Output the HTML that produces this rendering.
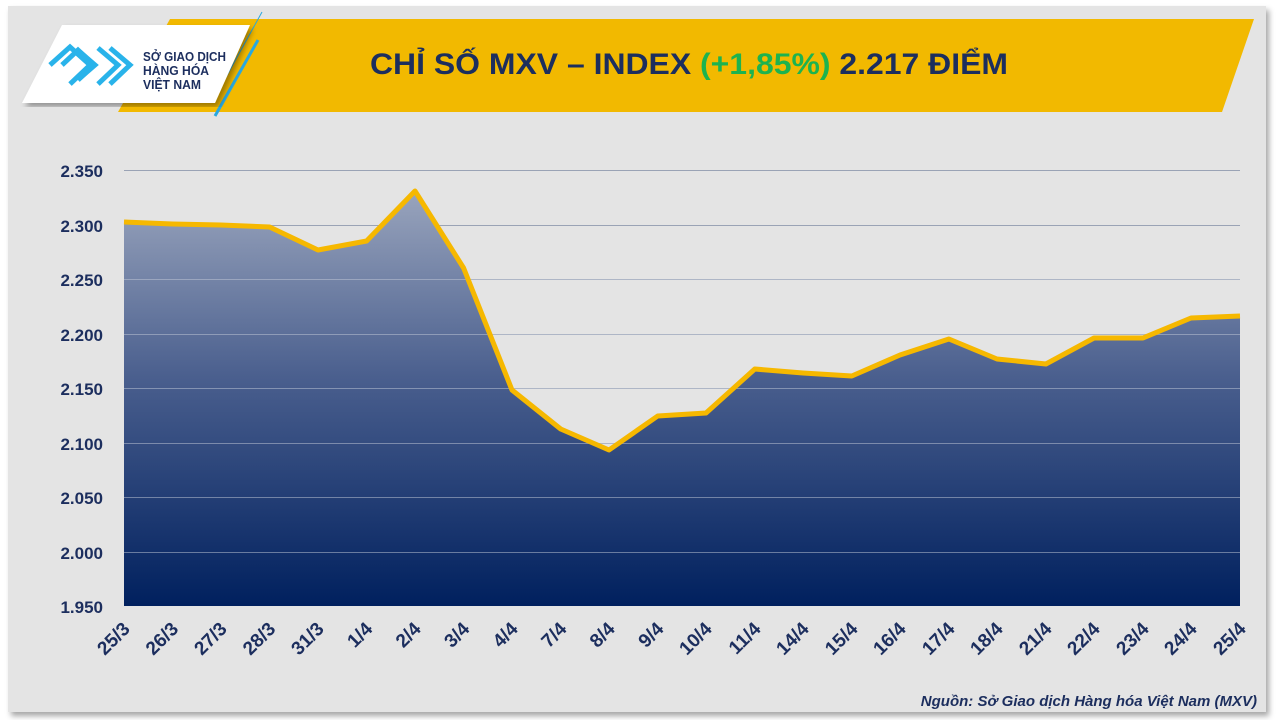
<!DOCTYPE html>
<html><head><meta charset="utf-8"><style>
html,body{margin:0;padding:0;background:#fff;}
svg{display:block;}
</style></head><body>
<svg width="1280" height="720" viewBox="0 0 1280 720" xmlns="http://www.w3.org/2000/svg" font-family="'Liberation Sans', sans-serif">
<defs>
<linearGradient id="area" gradientUnits="userSpaceOnUse" x1="0" y1="190" x2="0" y2="606">
<stop offset="0" stop-color="#9aa5bd"/>
<stop offset="0.45" stop-color="#4a5f8e"/>
<stop offset="1" stop-color="#00205e"/>
</linearGradient>
<filter id="sh" x="-5%" y="-5%" width="110%" height="110%"><feDropShadow dx="3" dy="4" stdDeviation="3" flood-color="#000" flood-opacity="0.35"/></filter>
</defs>
<rect x="0" y="0" width="1280" height="720" fill="#fff"/>
<rect x="8" y="6" width="1258" height="706" fill="#e4e4e4" filter="url(#sh)"/>
<polygon points="170,19 1254,19 1222,112 118,112" fill="#f2b900"/>
<line x1="262" y1="12" x2="220" y2="88" stroke="#29a8e0" stroke-width="1"/>
<line x1="258" y1="40" x2="215" y2="116" stroke="#29a8e0" stroke-width="3"/>
<polygon points="62,25 250,25 215,103 22,103" fill="#fff" filter="url(#sh)"/>
<g fill="none" stroke="#29b3ea" stroke-width="5">
<polyline points="50,65 70,47 90,65 70,84"/>
<polyline points="62,65 78,50 94,65 78,80"/>
<polyline points="80,52 95,65 80,78"/>
<polyline points="98,48 118,65 98,84"/>
<polyline points="110,48 130,65 110,84"/>
<polyline points="86,60 90,65 86,70"/>
</g>
<text x="143" y="61" font-size="13" font-weight="bold" fill="#1c2e5e" textLength="83" lengthAdjust="spacingAndGlyphs">SỞ GIAO DỊCH</text>
<text x="143" y="75" font-size="13" font-weight="bold" fill="#1c2e5e" textLength="66" lengthAdjust="spacingAndGlyphs">HÀNG HÓA</text>
<text x="143" y="89" font-size="13" font-weight="bold" fill="#1c2e5e" textLength="58" lengthAdjust="spacingAndGlyphs">VIỆT NAM</text>
<text x="370" y="74" font-size="30" font-weight="bold" fill="#1c2e5e" textLength="638" lengthAdjust="spacingAndGlyphs">CHỈ SỐ MXV – INDEX <tspan fill="#1db34f">(+1,85%)</tspan> 2.217 ĐIỂM</text>
<g stroke="#9aa3b5" stroke-width="1">
<line x1="124" y1="170.5" x2="1240" y2="170.5"/><line x1="124" y1="225.5" x2="1240" y2="225.5"/>
<line x1="124" y1="279.5" x2="1240" y2="279.5"/><line x1="124" y1="334.5" x2="1240" y2="334.5"/>
<line x1="124" y1="388.5" x2="1240" y2="388.5"/><line x1="124" y1="443.5" x2="1240" y2="443.5"/>
<line x1="124" y1="497.5" x2="1240" y2="497.5"/><line x1="124" y1="552.5" x2="1240" y2="552.5"/>
</g>
<polygon fill="url(#area)" points="124,606 124,222 172.5,224 221,225 269.6,227 318,250 366.6,241 415,191 463.6,268 512,390 560.7,429 609,450 657.7,416 706,413 754.8,369 803,373 851.8,376 900,355 948.9,339 997,359 1045.9,364 1094,338 1143,338 1191,318 1240,316 1240,606"/>
<g stroke="#c3cad8" stroke-width="1" opacity="0.5">
<line x1="124" y1="279.5" x2="1240" y2="279.5"/><line x1="124" y1="334.5" x2="1240" y2="334.5"/>
<line x1="124" y1="388.5" x2="1240" y2="388.5"/><line x1="124" y1="443.5" x2="1240" y2="443.5"/>
<line x1="124" y1="497.5" x2="1240" y2="497.5"/><line x1="124" y1="552.5" x2="1240" y2="552.5"/>
</g>
<polyline fill="none" stroke="#f6b800" stroke-width="5" stroke-linejoin="round" points="124,222 172.5,224 221,225 269.6,227 318,250 366.6,241 415,191 463.6,268 512,390 560.7,429 609,450 657.7,416 706,413 754.8,369 803,373 851.8,376 900,355 948.9,339 997,359 1045.9,364 1094,338 1143,338 1191,318 1240,316"/>
<g font-size="17" font-weight="bold" fill="#1c2e5e" text-anchor="end">
<text x="103" y="177">2.350</text><text x="103" y="232">2.300</text><text x="103" y="286">2.250</text>
<text x="103" y="341">2.200</text><text x="103" y="395">2.150</text><text x="103" y="450">2.100</text>
<text x="103" y="504">2.050</text><text x="103" y="559">2.000</text><text x="103" y="613">1.950</text>
</g>
<g font-size="19" font-weight="bold" fill="#1c2e5e" text-anchor="end">
<text transform="translate(131,630) rotate(-45)">25/3</text>
<text transform="translate(179.5,630) rotate(-45)">26/3</text>
<text transform="translate(228,630) rotate(-45)">27/3</text>
<text transform="translate(276.6,630) rotate(-45)">28/3</text>
<text transform="translate(325,630) rotate(-45)">31/3</text>
<text transform="translate(373.6,630) rotate(-45)">1/4</text>
<text transform="translate(422,630) rotate(-45)">2/4</text>
<text transform="translate(470.6,630) rotate(-45)">3/4</text>
<text transform="translate(519,630) rotate(-45)">4/4</text>
<text transform="translate(567.7,630) rotate(-45)">7/4</text>
<text transform="translate(616,630) rotate(-45)">8/4</text>
<text transform="translate(664.7,630) rotate(-45)">9/4</text>
<text transform="translate(713,630) rotate(-45)">10/4</text>
<text transform="translate(761.8,630) rotate(-45)">11/4</text>
<text transform="translate(810,630) rotate(-45)">14/4</text>
<text transform="translate(858.8,630) rotate(-45)">15/4</text>
<text transform="translate(907,630) rotate(-45)">16/4</text>
<text transform="translate(955.9,630) rotate(-45)">17/4</text>
<text transform="translate(1004,630) rotate(-45)">18/4</text>
<text transform="translate(1052.9,630) rotate(-45)">21/4</text>
<text transform="translate(1101,630) rotate(-45)">22/4</text>
<text transform="translate(1150,630) rotate(-45)">23/4</text>
<text transform="translate(1198,630) rotate(-45)">24/4</text>
<text transform="translate(1247,630) rotate(-45)">25/4</text>
</g>
<text x="1257" y="706" font-size="15" font-weight="bold" font-style="italic" fill="#1c2e5e" text-anchor="end">Nguồn: Sở Giao dịch Hàng hóa Việt Nam (MXV)</text>
</svg>
</body></html>
